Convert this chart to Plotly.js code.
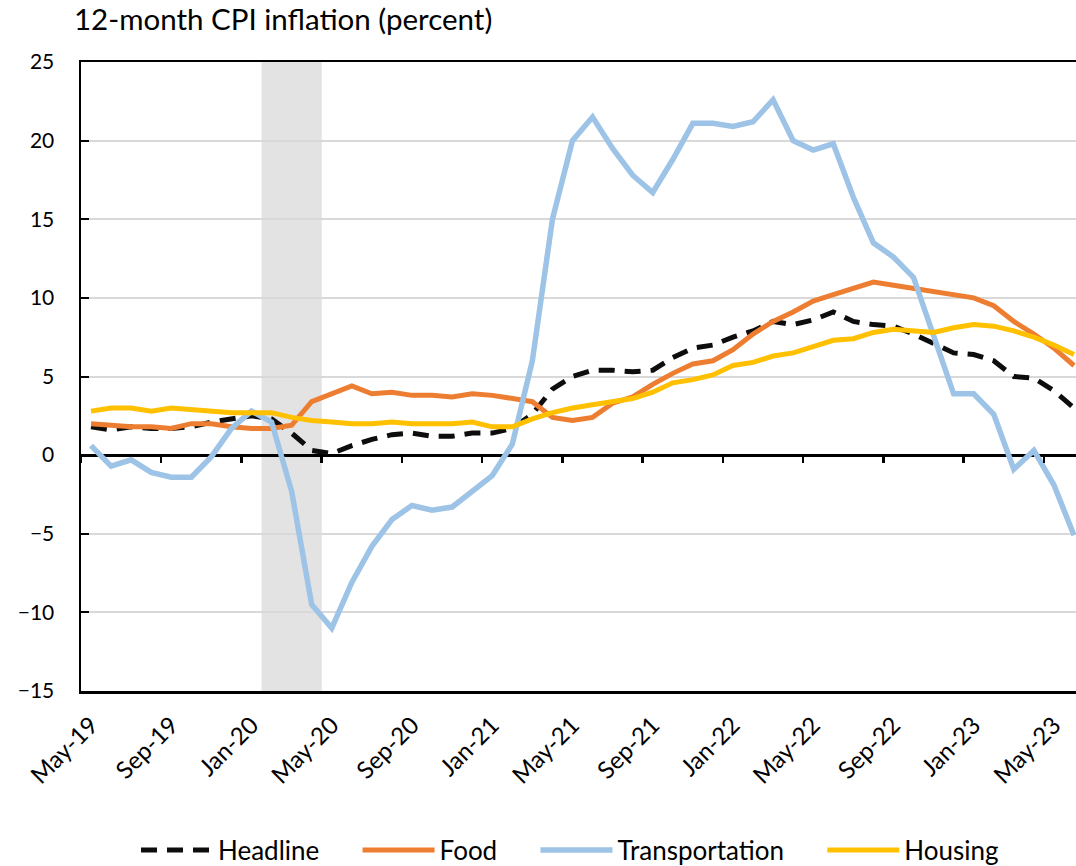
<!DOCTYPE html>
<html>
<head>
<meta charset="utf-8">
<script src="https://cdn.plot.ly/plotly-3.0.1.min.js"></script>
<style>
html,body{margin:0;padding:0;background:#fff;overflow:hidden;}
#chart{width:1076px;height:866px;}
</style>
</head>
<body>
<div id="chart"></div>
<script>
const months = ["May-19","Jun-19","Jul-19","Aug-19","Sep-19","Oct-19","Nov-19","Dec-19",
"Jan-20","Feb-20","Mar-20","Apr-20","May-20","Jun-20","Jul-20","Aug-20","Sep-20","Oct-20","Nov-20","Dec-20",
"Jan-21","Feb-21","Mar-21","Apr-21","May-21","Jun-21","Jul-21","Aug-21","Sep-21","Oct-21","Nov-21","Dec-21",
"Jan-22","Feb-22","Mar-22","Apr-22","May-22","Jun-22","Jul-22","Aug-22","Sep-22","Oct-22","Nov-22","Dec-22",
"Jan-23","Feb-23","Mar-23","Apr-23","May-23","Jun-23"];

const headline = [1.8,1.6,1.8,1.7,1.7,1.8,2.1,2.3,
2.5,2.3,1.4,0.3,0.1,0.6,1.0,1.3,1.4,1.2,1.2,1.4,
1.4,1.7,2.6,4.2,5.0,5.4,5.4,5.3,5.4,6.2,6.8,7.0,
7.5,7.9,8.5,8.3,8.6,9.1,8.5,8.3,8.2,7.7,7.1,6.5,
6.4,6.0,5.0,4.9,4.1,3.0];

const food = [2.0,1.9,1.8,1.8,1.7,2.0,2.0,1.8,
1.7,1.7,1.9,3.4,3.9,4.4,3.9,4.0,3.8,3.8,3.7,3.9,
3.8,3.6,3.4,2.4,2.2,2.4,3.3,3.7,4.5,5.2,5.8,6.0,
6.7,7.7,8.5,9.1,9.8,10.2,10.6,11.0,10.8,10.6,10.4,10.2,
10.0,9.5,8.5,7.7,6.8,5.7];

const transportation = [0.6,-0.7,-0.3,-1.1,-1.4,-1.4,-0.1,1.7,
2.8,2.1,-2.3,-9.5,-11.0,-8.1,-5.8,-4.1,-3.2,-3.5,-3.3,-2.3,
-1.3,0.7,6.0,15.0,20.0,21.5,19.5,17.8,16.7,18.8,21.1,21.1,
20.9,21.2,22.6,20.0,19.4,19.8,16.4,13.5,12.6,11.3,7.6,3.9,
3.9,2.6,-0.9,0.3,-1.9,-5.1];

const housing = [2.8,3.0,3.0,2.8,3.0,2.9,2.8,2.7,
2.7,2.7,2.4,2.2,2.1,2.0,2.0,2.1,2.0,2.0,2.0,2.1,
1.8,1.8,2.3,2.7,3.0,3.2,3.4,3.6,4.0,4.6,4.8,5.1,
5.7,5.9,6.3,6.5,6.9,7.3,7.4,7.8,8.0,7.9,7.8,8.1,
8.3,8.2,7.9,7.5,7.0,6.4];

const seriesNames = ["Headline", "Food", "Transportation", "Housing"];
const recessionStart = "Feb-20";
const recessionEnd = "Apr-20";
const tickLabels = months.filter((m,i)=> i % 4 === 0);
const boundaryTicks = months.map((m,i)=> i - 0.5).filter((v,i)=> i % 4 === 0);

const FONT = "Lato, 'Open Sans', sans-serif";
const pad = "\u00a0\u00a0\u00a0\u00a0\u00a0";

const traces = [
  {x: months, y: headline, name: seriesNames[0] + pad, type: "scatter", mode: "lines",
   line: {color: "#0d0d0d", width: 5, dash: "16px,10px"}},
  {x: months, y: food, name: seriesNames[1] + pad, type: "scatter", mode: "lines",
   line: {color: "#ED7D31", width: 5}},
  {x: months, y: transportation, name: seriesNames[2] + pad, type: "scatter", mode: "lines",
   line: {color: "#9DC3E6", width: 5.5}},
  {x: months, y: housing, name: seriesNames[3], type: "scatter", mode: "lines",
   line: {color: "#FFC000", width: 5}},
  {x: [], y: [], xaxis: "x2", showlegend: false, hoverinfo: "skip", type: "scatter", mode: "lines"}
];

const i0 = months.indexOf(recessionStart) - 0.5;
const i1 = months.indexOf(recessionEnd) + 0.5;

const layout = {
  width: 1076, height: 866,
  margin: {l: 81, r: 0, t: 62, b: 175},
  paper_bgcolor: "#ffffff", plot_bgcolor: "#ffffff",
  font: {family: FONT, color: "#000000"},
  title: {text: "12-month CPI inflation (percent)", font: {family: FONT, size: 29.5, color: "#000"},
          xref: "container", yref: "container", x: 74/1076, xanchor: "left", y: 1 - 20/866, yanchor: "middle"},
  showlegend: true,
  legend: {orientation: "h", xref: "container", yref: "container", x: 136/1076, xanchor: "left",
           y: 1 - 850/866, yanchor: "middle", font: {family: FONT, size: 26, color: "#000"},
           itemwidth: 72, tracegroupgap: 0},
  xaxis: {type: "category", range: [-0.5, 49.1], tickvals: tickLabels, ticktext: tickLabels,
          tickangle: -45, tickfont: {family: FONT, size: 24, color: "#000"},
          showgrid: false, zeroline: false, showline: true, linecolor: "#000", linewidth: 2.5,
          mirror: true, ticks: "", ticklabelstandoff: 8, fixedrange: true},
  xaxis2: {overlaying: "x", anchor: "free", position: 15/40, side: "bottom", range: [-0.5, 49.1],
           tickvals: boundaryTicks, ticks: "outside", ticklen: 7, tickwidth: 2.5, tickcolor: "#000",
           showticklabels: false, showgrid: false, zeroline: false, showline: false},
  yaxis: {range: [-15, 25], dtick: 5, tick0: 0, tickfont: {family: FONT, size: 21, color: "#000"},
          showgrid: true, gridcolor: "#d9d9d9", gridwidth: 2,
          zeroline: true, zerolinecolor: "#000", zerolinewidth: 3,
          showline: true, linecolor: "#000", linewidth: 2.5,
          ticks: "inside", ticklen: 8, tickwidth: 2, tickcolor: "#000", ticklabelstandoff: 20},
  shapes: [{type: "rect", xref: "x", yref: "y", x0: i0, x1: i1, y0: -15, y1: 25,
            fillcolor: "#e3e3e3", line: {width: 0}, layer: "below"}]
};

Plotly.newPlot("chart", traces, layout, {staticPlot: true});
</script>
</body>
</html>
